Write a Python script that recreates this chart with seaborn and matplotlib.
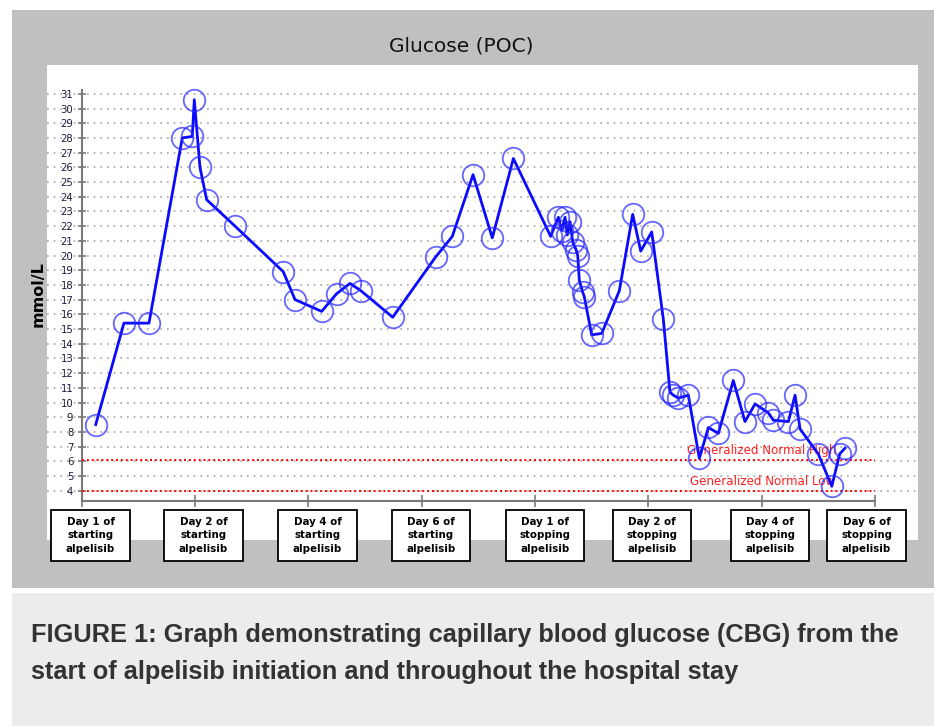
import numpy as np
import pandas as pd
import matplotlib
matplotlib.use("Agg")
import matplotlib.pyplot as plt
import matplotlib.transforms as mtransforms
from matplotlib.patches import Rectangle
import seaborn as sns

# -----------------------------------
# Data
# x is in "label slot" units: 0 = first tick, 7 = last tick
# -----------------------------------

time_pos = [
    0.124, 0.373, 0.594, 0.888, 0.976, 0.994, 1.044, 1.103, 1.353, 1.779,
    1.883, 2.118, 2.250, 2.368, 2.465, 2.745, 3.124, 3.271, 3.454, 3.624,
    3.810, 4.139, 4.207, 4.237, 4.266, 4.286, 4.310, 4.334, 4.363, 4.378,
    4.392, 4.422, 4.436, 4.501, 4.590, 4.745, 4.863, 4.934, 5.031, 5.133,
    5.192, 5.222, 5.266, 5.354, 5.451, 5.531, 5.619, 5.751, 5.854, 5.943,
    6.060, 6.104, 6.237, 6.296, 6.340, 6.501, 6.620, 6.690, 6.737,
]

glucose = [
    8.5, 15.4, 15.4, 28.0, 28.1, 30.6, 26.0, 23.8, 22.0, 18.9,
    17.0, 16.2, 17.4, 18.1, 17.6, 15.8, 19.9, 21.3, 25.5, 21.2,
    26.6, 21.3, 22.6, 21.7, 22.6, 21.4, 22.3, 20.9, 20.4, 20.0,
    18.3, 17.5, 17.2, 14.6, 14.7, 17.6, 22.8, 20.3, 21.6, 15.7,
    10.7, 10.5, 10.3, 10.5, 6.2, 8.3, 7.9, 11.5, 8.7, 9.9,
    9.3, 8.8, 8.7, 10.5, 8.2, 6.5, 4.3, 6.5, 6.9,
]

day_labels = [
    "Day 1 of\nstarting\nalpelisib",
    "Day 2 of\nstarting\nalpelisib",
    "Day 4 of\nstarting\nalpelisib",
    "Day 6 of\nstarting\nalpelisib",
    "Day 1 of\nstopping\nalpelisib",
    "Day 2 of\nstopping\nalpelisib",
    "Day 4 of\nstopping\nalpelisib",
    "Day 6 of\nstopping\nalpelisib",
]

normal_high = 6.1
normal_low = 4.0

df = pd.DataFrame({"time": time_pos, "glucose": glucose})

# -----------------------------------
# Figure + background panels
# -----------------------------------

W, H = 934, 726
fig = plt.figure(figsize=(W / 100, H / 100), dpi=100)
fig.patch.set_facecolor("white")


def px_rect(x0, y0, x1, y1, color):
    fig.add_artist(Rectangle(
        (x0 / W, 1 - y1 / H), (x1 - x0) / W, (y1 - y0) / H,
        transform=fig.transFigure, facecolor=color, edgecolor="none", zorder=0
    ))


px_rect(12, 10, 934, 588, "#c0c0c0")
px_rect(12, 593, 934, 726, "#ececec")

ax = fig.add_axes([47 / W, 1 - 540 / H, (918 - 47) / W, (540 - 65) / H])
ax.set_facecolor("white")

# -----------------------------------
# Glucose line
# -----------------------------------

sns.lineplot(
    data=df, x="time", y="glucose", ax=ax,
    sort=False, estimator=None,
    color="#0a0aff", linewidth=2,
    marker="o", markersize=15.5,
    markerfacecolor="none",
    markeredgecolor=(0.15, 0.15, 1.0, 0.7),
    markeredgewidth=1.3,
    zorder=5,
)

# normal range lines
ax.hlines([normal_high, normal_low], 0, 7, colors="red",
          linestyles=(0, (1, 1.5)), linewidth=1.4, zorder=3)
ax.text(5.34, normal_high + 0.2, "Generalized Normal High", color="#ff2020",
        fontsize=8.6, va="bottom", ha="left", zorder=4)
ax.text(5.37, normal_low + 0.2, "Generalized Normal Low", color="#ff2020",
        fontsize=8.6, va="bottom", ha="left", zorder=4)

# -----------------------------------
# Axes styling
# -----------------------------------

ax.set_xlim(-0.306, 7.381)
ax.set_ylim(0.646, 32.96)

ax.set_yticks(range(4, 32))
ax.set_xticks(range(0, 8))
ax.set_xticklabels([])

ax.yaxis.grid(True, color="#a8a8a8", linestyle=(0, (1, 3)), linewidth=1.2)
ax.xaxis.grid(False)
ax.set_axisbelow(True)

for side in ["top", "right"]:
    ax.spines[side].set_visible(False)
ax.spines["left"].set_position(("data", 0))
ax.spines["left"].set_bounds(3.27, 31.25)
ax.spines["bottom"].set_position(("data", 3.27))
ax.spines["bottom"].set_bounds(0, 7)
for side in ["left", "bottom"]:
    ax.spines[side].set_color("#7a7a7a")
    ax.spines[side].set_linewidth(1.5)

ax.tick_params(axis="y", direction="inout", length=6, width=1.2,
               color="#7a7a7a", labelsize=7.3, labelcolor="#1c1c3c", pad=3)
ax.tick_params(axis="x", direction="inout", length=8, width=1.2,
               color="#7a7a7a")

ax.set_xlabel("")
ax.set_ylabel("")

# x "tick labels" as boxes below the axis
box_centers = [0.078, 1.075, 2.081, 3.083, 4.089, 5.034, 6.075, 6.927]
trans = mtransforms.blended_transform_factory(ax.transData, fig.transFigure)
box_w = 78.5 / 113.3
for cx, lab in zip(box_centers, day_labels):
    ax.add_patch(Rectangle(
        (cx - box_w / 2, 1 - 561 / H), box_w, 51 / H,
        transform=trans, facecolor="white", edgecolor="black",
        linewidth=1.3, clip_on=False, zorder=6
    ))
    ax.text(cx, 1 - 535.5 / H, lab, transform=trans, ha="center",
            va="center", fontsize=7.4, fontweight="bold",
            linespacing=1.4, clip_on=False, zorder=7)

# -----------------------------------
# Titles
# -----------------------------------

fig.text(461 / W, 1 - 46 / H, "Glucose (POC)", ha="center", va="center",
         fontsize=14.5, color="#111111")
fig.text(38 / W, 1 - 294 / H, "mmol/L", ha="center", va="center",
         rotation=90, fontsize=11.5, fontweight="bold", color="black")

cap_font = ["Liberation Sans", "DejaVu Sans"]
fig.text(31 / W, 1 - 635 / H,
         "FIGURE 1: Graph demonstrating capillary blood glucose (CBG) from the",
         ha="left", va="center", fontsize=18.3, fontweight="bold",
         color="#333333", family=cap_font)
fig.text(31 / W, 1 - 672 / H,
         "start of alpelisib initiation and throughout the hospital stay",
         ha="left", va="center", fontsize=18.3, fontweight="bold",
         color="#333333", family=cap_font)

plt.savefig("out.png", dpi=100)
plt.close()
